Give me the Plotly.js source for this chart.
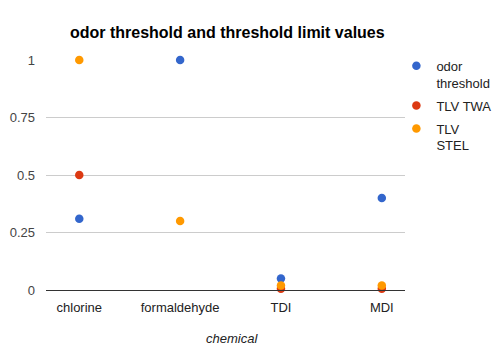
<!DOCTYPE html>
<html><head><meta charset="utf-8">
<script src="https://cdn.plot.ly/plotly-3.0.1.min.js"></script>
<style>html,body{margin:0;padding:0;background:#fff}</style>
</head><body>
<div id="chart" style="width:500px;height:355px"></div>
<script>
var chemicals = ["chlorine", "formaldehyde", "TDI", "MDI"];
var odorThreshold = [0.31, 1, 0.05, 0.4];
var tlvTWA = [0.5, null, 0.005, 0.005];
var tlvSTEL = [1, 0.3, 0.02, 0.02];
var seriesNames = ["odor<br>threshold", "TLV TWA", "TLV<br>STEL"];
var seriesColors = ["#3366cc", "#dc3912", "#ff9900"];
var yTicks = [0, 0.25, 0.5, 0.75, 1];
var yTickText = ["0", "0.25", "0.5", "0.75", "1"];

var allSeries = [odorThreshold, tlvTWA, tlvSTEL];
var traces = allSeries.map(function (vals, i) {
  return {
    type: "scatter", mode: "markers",
    x: chemicals, y: vals, name: seriesNames[i],
    legendgroup: "g" + i,
    marker: {color: seriesColors[i], size: 8.5},
    cliponaxis: false
  };
});

var layout = {
  width: 500, height: 355,
  margin: {l: 46, r: 95, t: 60, b: 65, autoexpand: false},
  paper_bgcolor: "#fff", plot_bgcolor: "#fff",
  font: {family: "Liberation Sans, Arial, sans-serif", size: 13, color: "#444"},
  title: {text: "<b>odor threshold and threshold limit values</b>", font: {size: 16, color: "#000"},
          x: 0.505, xanchor: "center", y: 0.91, yanchor: "middle", xref: "paper"},
  xaxis: {
    type: "category", range: [-0.33, 3.23], automargin: false,
    showgrid: false, zeroline: false, showline: true, linecolor: "#333", linewidth: 1,
    ticks: "", tickfont: {size: 13, color: "#222"}, ticklabelstandoff: 5
  },
  yaxis: {
    range: [0, 1], tickvals: yTicks, ticktext: yTickText, automargin: false,
    showgrid: true, gridcolor: "#ccc", zeroline: false, showline: false,
    ticks: "", tickfont: {size: 13, color: "#444"}, ticklabelstandoff: 10
  },
  annotations: [{
    text: "<i>chemical</i>", xref: "paper", yref: "paper",
    x: 0.519, xanchor: "center", y: -0.209, yanchor: "middle",
    showarrow: false, font: {size: 13, color: "#222"}
  }],
  showlegend: true,
  legend: {x: 0.976, xanchor: "left", y: 1.04, yanchor: "top", valign: "top",
           font: {size: 13, color: "#222"}, bgcolor: "rgba(0,0,0,0)",
           traceorder: "grouped", tracegroupgap: 3, itemclick: false}
};

Plotly.newPlot("chart", traces, layout, {displayModeBar: false, staticPlot: true});
</script>
</body></html>
